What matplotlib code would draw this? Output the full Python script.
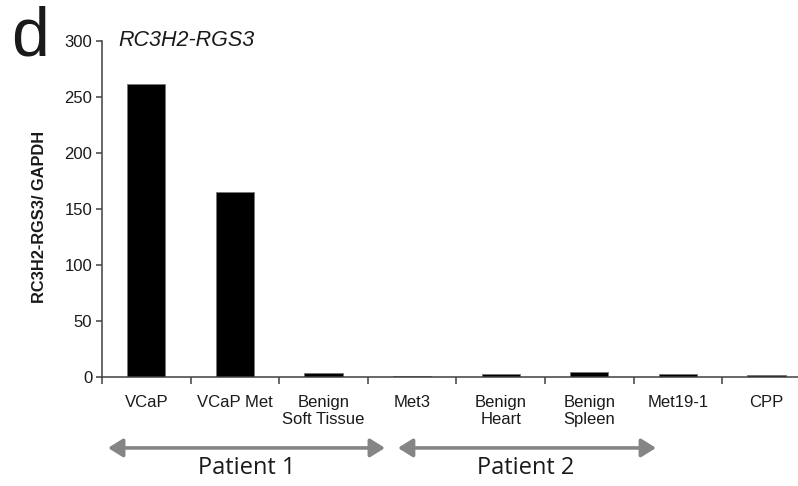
import matplotlib
matplotlib.use("Agg")
import matplotlib.pyplot as plt
from matplotlib.transforms import blended_transform_factory

# Expression data
categories = ["VCaP", "VCaP Met", "Benign\nSoft Tissue", "Met3",
              "Benign\nHeart", "Benign\nSpleen", "Met19-1", "CPP"]
values = [261, 165, 3.1, 0.2, 2.1, 4.2, 2.0, 1.5]
yticks = [0, 50, 100, 150, 200, 250, 300]

# Patient groups: (label, first category index, last category index)
groups = [("Patient 1", 0, 2), ("Patient 2", 3, 5)]

W, H = 798, 486
fig = plt.figure(figsize=(W / 100, H / 100), dpi=100)
plt.rcParams["font.family"] = ["Liberation Sans", "DejaVu Sans"]

ax_left, ax_right = 102, 810.8
ax_bottom, ax_top = 376.7, 40.7
ax = fig.add_axes([ax_left / W, 1 - ax_bottom / H,
                   (ax_right - ax_left) / W, (ax_bottom - ax_top) / H])

x = list(range(len(categories)))
ax.bar(x, values, width=0.43, color="black", edgecolor="#777777", linewidth=0.6)

ax.set_xlim(-0.5, len(categories) - 0.5)
ax.set_ylim(0, 300)
ax.set_yticks(yticks)
ax.set_yticklabels([str(v) for v in yticks], fontsize=12, color="#1a1a1a")

ax.set_xticks(x)
ax.set_xticklabels(categories, fontsize=12, color="#1a1a1a", linespacing=1.2)
ax.set_xticks([i - 0.5 for i in range(len(categories) + 1)], minor=True)
ax.tick_params(axis="x", which="major", length=0, pad=13)
ax.tick_params(axis="x", which="minor", length=5, width=1.1, color="#404040",
               direction="out")
ax.tick_params(axis="y", length=4, width=1.1, color="#404040", direction="out",
               pad=3)

for side in ("top", "right"):
    ax.spines[side].set_visible(False)
for side in ("left", "bottom"):
    ax.spines[side].set_color("#404040")
    ax.spines[side].set_linewidth(1.1)

# Patient grouping arrows and labels below the category labels
trans = blended_transform_factory(ax.transData, ax.transAxes)
arrow_spans = [(-0.432, 2.694), (2.84, 5.753)]
label_x = [1.137, 4.285]
for (name, i0, i1), (xa, xb), lx in zip(groups, arrow_spans, label_x):
    ax.annotate("", xy=(xb, -0.212), xytext=(xa, -0.212),
                xycoords=trans, textcoords=trans, annotation_clip=False,
                arrowprops=dict(arrowstyle="<|-|>,head_length=0.8,head_width=0.5",
                                mutation_scale=11, lw=2.6, color="#858585",
                                shrinkA=0, shrinkB=0))
    ax.text(lx, -0.272, name, transform=trans, ha="center", va="center",
            fontsize=17, family=["Open Sans", "DejaVu Sans"], color="#1a1a1a",
            clip_on=False)

# Title, axis label and panel letter
fig.text(118 / W, 1 - 40 / H, "RC3H2-RGS3", ha="left", va="center",
         fontsize=15.5, style="italic", color="#1a1a1a")
fig.text(40 / W, 1 - 217 / H, "RC3H2-RGS3/ GAPDH", ha="center", va="center",
         rotation=90, fontsize=11.8, fontweight="bold", color="#1a1a1a")
fig.text(11 / W, 1 - 55 / H, "d", ha="left", va="baseline", fontsize=49,
         color="#1a1a1a")

fig.savefig("out.png", dpi=100)
